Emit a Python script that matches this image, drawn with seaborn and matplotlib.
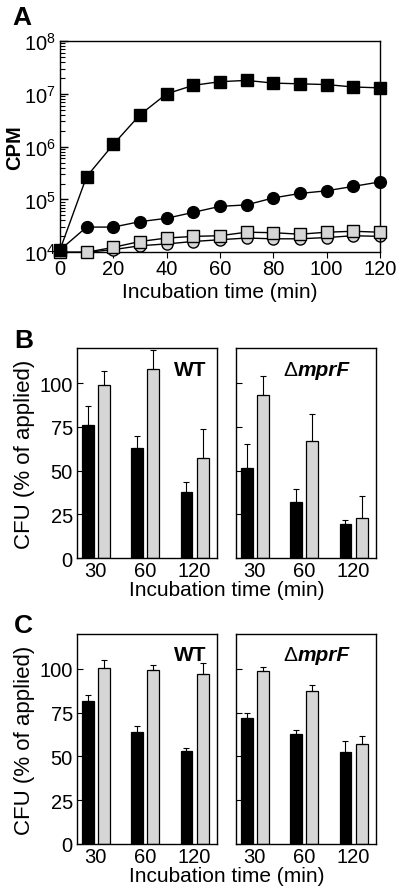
import numpy as np
import pandas as pd
import matplotlib
matplotlib.use('Agg')
import matplotlib.pyplot as plt
from matplotlib.ticker import NullFormatter
import seaborn as sns

# Panel A: CPM over incubation time
time_min = [0, 10, 20, 30, 40, 50, 60, 70, 80, 90, 100, 110, 120]
black_sq = [1.1e4, 2.7e5, 1.1e6, 4.0e6, 1.0e7, 1.45e7, 1.7e7, 1.8e7, 1.6e7, 1.55e7, 1.5e7, 1.35e7, 1.3e7]
black_ci = [1.1e4, 3.0e4, 3.0e4, 3.8e4, 4.4e4, 5.7e4, 7.4e4, 7.9e4, 1.07e5, 1.3e5, 1.46e5, 1.77e5, 2.15e5]
gray_sq = [1.0e4, 1.0e4, 1.24e4, 1.6e4, 1.86e4, 2.0e4, 2.06e4, 2.4e4, 2.35e4, 2.2e4, 2.4e4, 2.5e4, 2.4e4]
gray_ci = [1.0e4, 1.0e4, 1.12e4, 1.33e4, 1.44e4, 1.6e4, 1.73e4, 1.86e4, 1.8e4, 1.8e4, 1.9e4, 2.06e4, 2.0e4]

# Panels B and C: CFU (% of applied)
groups = ['30', '60', '120']
b_wt_black = [76, 63, 38]
b_wt_black_err = [87, 70, 43.5]
b_wt_gray = [98.7, 108, 57.3]
b_wt_gray_err = [107, 119, 73.7]
b_mut_black = [51.7, 32, 19.5]
b_mut_black_err = [64.9, 39.7, 22]
b_mut_gray = [92.9, 66.8, 22.8]
b_mut_gray_err = [104, 82.2, 35.2]

c_wt_black = [81.9, 63.8, 53]
c_wt_black_err = [85.3, 67.2, 55]
c_wt_gray = [100.4, 99.6, 97.2]
c_wt_gray_err = [105.3, 102.3, 103.4]
c_mut_black = [72.2, 62.7, 52.5]
c_mut_black_err = [74.6, 65.2, 59.1]
c_mut_gray = [98.9, 87.3, 57.2]
c_mut_gray_err = [101.1, 90.9, 61.9]

GRAY = '#d6d6d6'

sns.set_style('ticks')
plt.rcParams['font.family'] = ['Liberation Sans', 'DejaVu Sans']
plt.rcParams['mathtext.fontset'] = 'custom'
plt.rcParams['mathtext.rm'] = 'Liberation Sans'
plt.rcParams['mathtext.it'] = 'Liberation Sans:italic'
plt.rcParams['mathtext.bf'] = 'Liberation Sans:bold'
plt.rcParams['axes.linewidth'] = 1.0
for key in ['text.color', 'axes.labelcolor', 'xtick.color', 'ytick.color', 'axes.edgecolor']:
    plt.rcParams[key] = 'black'

TICK_FS = 14.5
LABEL_FS = 15

fig = plt.figure(figsize=(4.02, 8.95), dpi=100)

# ---- Panel A ----
axA = fig.add_axes([0.149, 0.717, 0.796, 0.236])
series = [
    (gray_ci, 'o', GRAY, 8.0, 2),
    (gray_sq, 's', GRAY, 8.0, 3),
    (black_ci, 'o', 'black', 8.5, 4),
    (black_sq, 's', 'black', 9.0, 5),
]
for vals, mk, col, ms, z in series:
    sns.lineplot(x=time_min, y=vals, ax=axA, color='black', linewidth=1.0,
                 marker=mk, markersize=ms, markerfacecolor=col,
                 markeredgecolor='black', markeredgewidth=1.0, zorder=z)
axA.set_yscale('log')
axA.set_xlim(0, 120)
axA.set_xticks([0, 20, 40, 60, 80, 100, 120])
axA.set_yticks([1e4, 1e5, 1e6, 1e7, 1e8])
axA.set_yticks([m * 10.0 ** e for e in range(4, 8) for m in range(2, 10)], minor=True)
axA.yaxis.set_minor_formatter(NullFormatter())
axA.set_ylim(1e4, 1e8)
axA.tick_params(axis='y', which='both', direction='in', labelsize=TICK_FS, pad=3, left=True)
axA.tick_params(axis='y', which='major', length=5.5, width=1)
axA.tick_params(axis='y', which='minor', length=3.5, width=0.8)
axA.tick_params(axis='x', direction='out', length=4, labelsize=TICK_FS, pad=1)
axA.set_xlabel('Incubation time (min)', fontsize=LABEL_FS, labelpad=3)
axA.set_ylabel('CPM', fontsize=14.5, fontweight='bold', labelpad=0)
for sp in axA.spines.values():
    sp.set_visible(True)
for ln in axA.lines:
    ln.set_clip_on(False)
fig.text(0.03, 0.993, 'A', fontsize=19, fontweight='bold', va='top')


def bar_panel(ax, black, black_err, gray, gray_err, show_labels):
    df = pd.DataFrame({
        'time': groups * 2,
        'cfu': black + gray,
        'kind': ['black'] * 3 + ['gray'] * 3,
    })
    sns.barplot(data=df, x='time', y='cfu', hue='kind', order=groups,
                hue_order=['black', 'gray'], palette={'black': 'black', 'gray': GRAY},
                width=0.66, gap=0.27, errorbar=None, legend=False,
                edgecolor='black', linewidth=0.9, ax=ax)
    for cont, vals, tops in zip(ax.containers, [black, gray], [black_err, gray_err]):
        xs = [b.get_x() + b.get_width() / 2 for b in cont]
        up = np.array(tops) - np.array(vals)
        ax.errorbar(xs, vals, yerr=[np.zeros(3), up], fmt='none', ecolor='black',
                    elinewidth=0.8, capsize=2.5, capthick=0.8, zorder=1)
    ax.set_ylim(0, 120)
    ax.set_xlim(-0.38, 2.45)
    ax.set_yticks([0, 25, 50, 75, 100])
    ax.tick_params(axis='y', direction='in', length=4, labelsize=TICK_FS, pad=3,
                   labelleft=show_labels)
    ax.tick_params(axis='x', length=0, labelsize=TICK_FS, pad=2)
    ax.set_xlabel('')
    if show_labels:
        ax.set_ylabel('CFU (% of applied)', fontsize=16, labelpad=3)
    else:
        ax.set_ylabel('')
    for sp in ax.spines.values():
        sp.set_visible(True)


def strain_labels(ax_wt, ax_mut):
    ax_wt.text(0.81, 0.9, 'WT', transform=ax_wt.transAxes, fontsize=15,
               fontweight='bold', ha='center', va='center')
    ax_mut.text(0.44, 0.9, '\u0394', transform=ax_mut.transAxes, fontsize=15,
                ha='right', va='center')
    ax_mut.text(0.44, 0.9, 'mprF', transform=ax_mut.transAxes, fontsize=15,
                fontweight='bold', style='italic', ha='left', va='center')


# ---- Panel B ----
axB1 = fig.add_axes([0.1915, 0.3754, 0.348, 0.2346])
axB2 = fig.add_axes([0.587, 0.3754, 0.348, 0.2346])
bar_panel(axB1, b_wt_black, b_wt_black_err, b_wt_gray, b_wt_gray_err, True)
bar_panel(axB2, b_mut_black, b_mut_black_err, b_mut_gray, b_mut_gray_err, False)
strain_labels(axB1, axB2)
fig.text(0.563, 0.34, 'Incubation time (min)', fontsize=LABEL_FS, ha='center', va='center')
fig.text(0.035, 0.632, 'B', fontsize=19, fontweight='bold', va='top')

# ---- Panel C ----
axC1 = fig.add_axes([0.1915, 0.0559, 0.348, 0.2346])
axC2 = fig.add_axes([0.587, 0.0559, 0.348, 0.2346])
bar_panel(axC1, c_wt_black, c_wt_black_err, c_wt_gray, c_wt_gray_err, True)
bar_panel(axC2, c_mut_black, c_mut_black_err, c_mut_gray, c_mut_gray_err, False)
strain_labels(axC1, axC2)
fig.text(0.563, 0.021, 'Incubation time (min)', fontsize=LABEL_FS, ha='center', va='center')
fig.text(0.035, 0.314, 'C', fontsize=19, fontweight='bold', va='top')

fig.savefig('out.png', dpi=100, facecolor='white')
